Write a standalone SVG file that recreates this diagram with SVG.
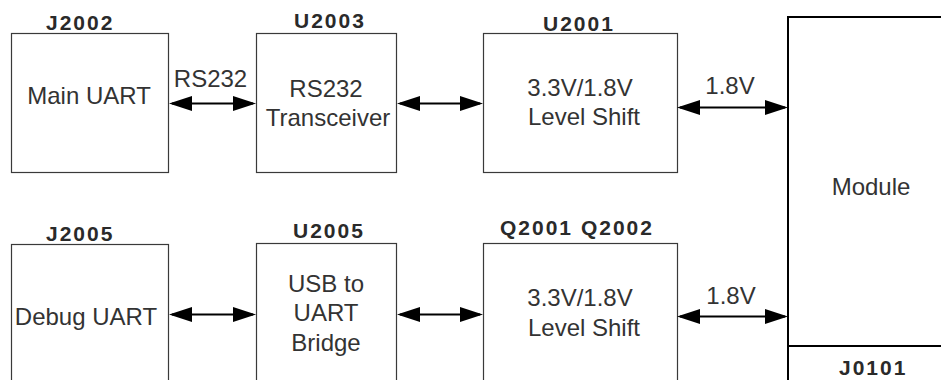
<svg xmlns="http://www.w3.org/2000/svg" width="941" height="380" viewBox="0 0 941 380">
  <style>
    .box { fill: #ffffff; stroke: #3a3a3a; stroke-width: 1.2; }
    .mod { fill: #ffffff; stroke: #000000; stroke-width: 2; }
    .t { font-family: "Liberation Sans", Arial, sans-serif; font-size: 24px; fill: #333333; text-anchor: middle; }
    .lbl { font-family: "Liberation Sans", Arial, sans-serif; font-size: 21px; font-weight: bold; fill: #2a2a2a; letter-spacing: 2px; }
    .conn { stroke: #000000; stroke-width: 2; fill: none; marker-start: url(#ah); marker-end: url(#ah); }
  </style>
  <defs>
    <marker id="ah" markerUnits="userSpaceOnUse" markerWidth="23" markerHeight="15" viewBox="0 0 23 15" refX="20" refY="7.5" orient="auto-start-reverse">
      <path d="M0,0 L23,7.5 L0,15 Z" fill="#000000"/>
    </marker>
  </defs>
  <rect width="941" height="380" fill="#ffffff"/>

  <g id="module">
    <rect class="mod" x="788" y="17" width="180" height="400"/>
    <line x1="788" y1="346" x2="941" y2="346" stroke="#000000" stroke-width="2"/>
    <text class="t" x="871" y="195">Module</text>
    <text class="lbl" x="839" y="374.5">J0101</text>
  </g>

  <g id="j2002">
    <rect class="box" x="11.5" y="33.5" width="157" height="139"/>
    <text class="lbl" x="46" y="29.5">J2002</text>
    <text class="t" x="89" y="104">Main UART</text>
  </g>

  <g id="u2003">
    <rect class="box" x="256.5" y="33.5" width="140" height="139"/>
    <text class="lbl" x="294" y="27.5">U2003</text>
    <text class="t" x="326" y="97">RS232</text>
    <text class="t" x="328" y="126">Transceiver</text>
  </g>

  <g id="u2001">
    <rect class="box" x="483.5" y="33.5" width="194" height="139"/>
    <text class="lbl" x="543" y="30.5">U2001</text>
    <text class="t" x="580" y="96">3.3V/1.8V</text>
    <text class="t" x="584" y="125">Level Shift</text>
  </g>

  <g id="j2005">
    <rect class="box" x="11.5" y="244.5" width="157" height="160"/>
    <text class="lbl" x="46" y="240.5">J2005</text>
    <text class="t" x="86" y="325">Debug UART</text>
  </g>

  <g id="u2005">
    <rect class="box" x="256.5" y="243.5" width="140" height="160"/>
    <text class="lbl" x="293" y="238">U2005</text>
    <text class="t" x="326" y="291.5">USB to</text>
    <text class="t" x="326" y="321">UART</text>
    <text class="t" x="326" y="350.5">Bridge</text>
  </g>

  <g id="q2001">
    <rect class="box" x="483.5" y="243.5" width="194" height="160"/>
    <text class="lbl" x="500" y="235">Q2001 Q2002</text>
    <text class="t" x="580" y="306">3.3V/1.8V</text>
    <text class="t" x="584" y="336">Level Shift</text>
  </g>

  <g id="connectors">
    <line class="conn" x1="172" y1="103.5" x2="253" y2="103.5"/>
    <line class="conn" x1="400" y1="103.5" x2="480" y2="103.5"/>
    <line class="conn" x1="680" y1="107.5" x2="785" y2="107.5"/>
    <line class="conn" x1="172" y1="314.5" x2="253" y2="314.5"/>
    <line class="conn" x1="400" y1="314.5" x2="480" y2="314.5"/>
    <line class="conn" x1="680" y1="316.5" x2="785" y2="316.5"/>
    <text class="t" x="210.5" y="87">RS232</text>
    <text class="t" x="730" y="94">1.8V</text>
    <text class="t" x="731" y="303.5">1.8V</text>
  </g>
</svg>
